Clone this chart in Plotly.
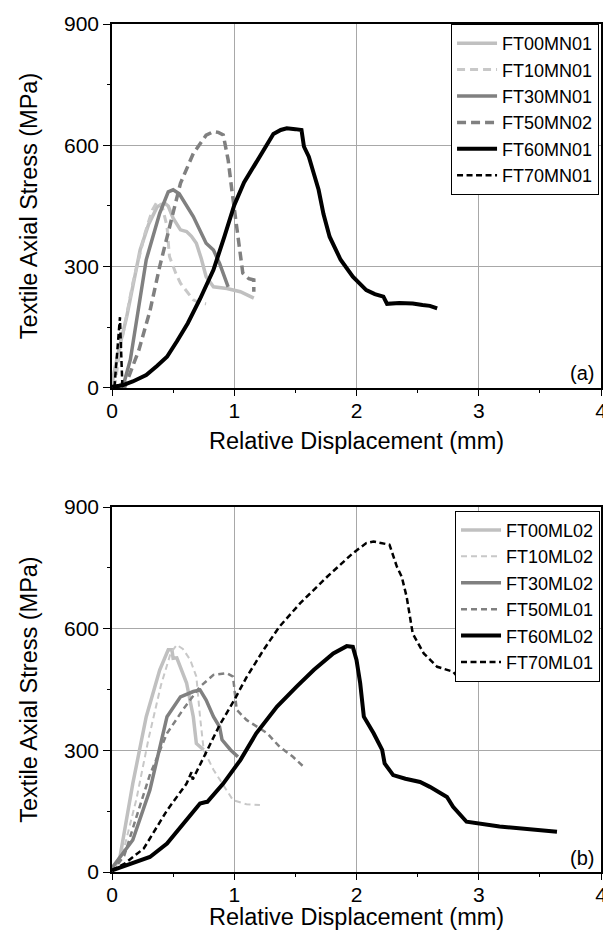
import plotly.graph_objects as go

# ---------------- data (a) ----------------
a_names = ["FT00MN01", "FT10MN01", "FT30MN01", "FT50MN02", "FT60MN01", "FT70MN01"]
a_FT00_x = [0, 0.01, 0.06, 0.12, 0.23, 0.30, 0.37, 0.43, 0.46, 0.50, 0.56, 0.61, 0.65, 0.69, 0.73, 0.77, 0.83, 0.94, 1.05, 1.16]
a_FT00_y = [0, 28, 100, 176, 341, 405, 448, 457, 450, 420, 391, 387, 375, 358, 320, 275, 250, 246, 238, 222]
a_FT10_x = [0.02, 0.065, 0.17, 0.27, 0.33, 0.37, 0.41, 0.45, 0.47, 0.52, 0.56, 0.62, 0.665, 0.72, 0.77]
a_FT10_y = [0, 94, 259, 383, 440, 461, 450, 399, 325, 285, 259, 235, 218, 210, 208]
a_FT30_x = [0.04, 0.10, 0.15, 0.20, 0.28, 0.39, 0.46, 0.50, 0.55, 0.665, 0.77, 0.83, 0.88, 0.95]
a_FT30_y = [0, 15, 70, 170, 317, 432, 485, 490, 480, 424, 358, 341, 308, 250]
a_FT50_x = [0.08, 0.106, 0.22, 0.31, 0.39, 0.47, 0.56, 0.665, 0.71, 0.77, 0.83, 0.87, 0.91, 0.95, 0.98, 1.03, 1.07, 1.12, 1.16, 1.16]
a_FT50_y = [0, 3, 94, 190, 300, 399, 506, 580, 601, 625, 634, 632, 626, 564, 490, 383, 284, 270, 267, 238]
a_FT60_x = [0, 0.08, 0.17, 0.28, 0.37, 0.45, 0.53, 0.62, 0.72, 0.83, 0.92, 1.00, 1.08, 1.16, 1.24, 1.32, 1.38, 1.43, 1.50, 1.55,
            1.57, 1.61, 1.65, 1.69, 1.73, 1.78, 1.87, 1.97, 2.08, 2.15, 2.22, 2.25, 2.35, 2.46, 2.54, 2.60, 2.66]
a_FT60_y = [3, 6, 16, 32, 55, 77, 115, 160, 220, 292, 375, 452, 508, 548, 590, 628, 638, 642, 640, 638,
            597, 572, 531, 490, 430, 374, 317, 275, 242, 232, 226, 208, 210, 209, 205, 203, 197]
a_FT70_x = [0.02, 0.035, 0.05, 0.065, 0.07, 0.075, 0.08, 0.085]
a_FT70_y = [2, 60, 120, 175, 130, 80, 30, 5]

# ---------------- data (b) ----------------
b_names = ["FT00ML02", "FT10ML02", "FT30ML02", "FT50ML01", "FT60ML02", "FT70ML01"]
b_FT00_x = [0, 0.065, 0.17, 0.28, 0.39, 0.44, 0.46, 0.49, 0.50, 0.53, 0.56, 0.61, 0.665, 0.69, 0.75]
b_FT00_y = [0, 37, 218, 383, 498, 535, 548, 548, 527, 528, 506, 466, 383, 317, 301]
b_FT10_x = [0, 0.10, 0.20, 0.30, 0.40, 0.48, 0.53, 0.58, 0.64, 0.69, 0.72, 0.75, 0.83, 0.94, 0.99, 1.10, 1.21]
b_FT10_y = [0, 60, 180, 330, 460, 540, 560, 550, 523, 482, 383, 301, 252, 202, 177, 167, 165]
b_FT30_x = [0, 0.17, 0.31, 0.45, 0.56, 0.665, 0.72, 0.77, 0.83, 0.88, 0.90, 0.97, 1.03]
b_FT30_y = [10, 79, 202, 383, 432, 445, 449, 424, 383, 358, 326, 301, 284]
b_FT50_x = [0, 0.10, 0.20, 0.31, 0.45, 0.58, 0.72, 0.83, 0.94, 0.99, 1.02, 1.10, 1.27, 1.37, 1.48, 1.58]
b_FT50_y = [0, 40, 136, 240, 342, 400, 457, 486, 490, 482, 400, 375, 342, 309, 284, 256]
b_FT60_x = [0, 0.17, 0.31, 0.45, 0.61, 0.72, 0.76, 0.78, 0.91, 1.05, 1.18, 1.35, 1.51, 1.62, 1.65, 1.81, 1.92, 1.97, 2.00,
            2.03, 2.06, 2.14, 2.21, 2.23, 2.30, 2.40, 2.52, 2.60, 2.74, 2.79, 2.90, 3.17, 3.45, 3.64]
b_FT60_y = [4, 21, 37, 70, 128, 169, 172, 173, 218, 276, 342, 408, 457, 490, 498, 539, 557, 555, 523,
            466, 383, 342, 301, 268, 239, 230, 222, 210, 185, 161, 124, 112, 103, 99]
b_FT70_x = [0, 0.10, 0.26, 0.45, 0.61, 0.65, 0.66, 0.775, 0.88, 1.00, 1.10, 1.24, 1.37, 1.54, 1.76, 1.97, 2.08, 2.14,
            2.27, 2.33, 2.37, 2.41, 2.46, 2.55, 2.66, 2.79, 2.85]
b_FT70_y = [4, 20, 58, 152, 218, 246, 228, 300, 362, 424, 480, 548, 605, 663, 728, 786, 811, 815,
            807, 753, 728, 679, 588, 539, 506, 494, 473]

x_ticks = [0, 1, 2, 3, 4]
y_ticks = [0, 300, 600, 900]
x_title = "Relative Displacement (mm)"
y_title = "Textile Axial Stress (MPa)"

FONT = "Arial, Liberation Sans, sans-serif"

styles_a = [
    dict(color="#c0c0c0", width=3.5, dash="solid"),
    dict(color="#c8c8c8", width=3, dash="8px,5px"),
    dict(color="#808080", width=3.5, dash="solid"),
    dict(color="#808080", width=3.5, dash="9px,5px"),
    dict(color="#000000", width=4, dash="solid"),
    dict(color="#000000", width=2.5, dash="6px,3.5px"),
]
styles_b = [
    dict(color="#c0c0c0", width=3.5, dash="solid"),
    dict(color="#c8c8c8", width=2, dash="6px,4px"),
    dict(color="#808080", width=3.5, dash="solid"),
    dict(color="#808080", width=2.5, dash="6px,4px"),
    dict(color="#000000", width=4, dash="solid"),
    dict(color="#000000", width=2.5, dash="6px,3.5px"),
]

fig = go.Figure()
a_data = [(a_FT00_x, a_FT00_y), (a_FT10_x, a_FT10_y), (a_FT30_x, a_FT30_y),
          (a_FT50_x, a_FT50_y), (a_FT60_x, a_FT60_y), (a_FT70_x, a_FT70_y)]
b_data = [(b_FT00_x, b_FT00_y), (b_FT10_x, b_FT10_y), (b_FT30_x, b_FT30_y),
          (b_FT50_x, b_FT50_y), (b_FT60_x, b_FT60_y), (b_FT70_x, b_FT70_y)]

for name, (xs, ys), st in zip(a_names, a_data, styles_a):
    fig.add_trace(go.Scatter(x=xs, y=ys, mode="lines", name=name, line=st,
                             xaxis="x", yaxis="y", legend="legend"))
for name, (xs, ys), st in zip(b_names, b_data, styles_b):
    fig.add_trace(go.Scatter(x=xs, y=ys, mode="lines", name=name, line=st,
                             xaxis="x2", yaxis="y2", legend="legend2"))

xa = dict(range=[0, 4], tickvals=x_ticks, ticks="outside", ticklen=6, tickwidth=1, tickcolor="black",
          showline=True, linecolor="black", linewidth=1.5, mirror=True, ticklabeloverflow="allow",
          automargin=False, ticklabelstandoff=-3,
          showgrid=True, gridcolor="#a8a8a8", gridwidth=1, zeroline=False,
          minor=dict(dtick=0.5, ticks="outside", ticklen=3, tickcolor="black", showgrid=False),
          tickfont=dict(size=21, color="black", family=FONT))
ya = dict(range=[0, 900], tickvals=y_ticks, ticks="outside", ticklen=7, tickwidth=1, tickcolor="black",
          showline=True, linecolor="black", linewidth=1.5, mirror=True, automargin=False,
          showgrid=True, gridcolor="#a8a8a8", gridwidth=1, zeroline=False,
          minor=dict(dtick=150, ticks="outside", ticklen=3, tickcolor="black", showgrid=False),
          tickfont=dict(size=21, color="black", family=FONT),
          title=dict(text=y_title, font=dict(size=23.5, color="black", family=FONT), standoff=20))

leg = dict(font=dict(size=18, color="black", family=FONT), bordercolor="black", borderwidth=1,
           bgcolor="white", xanchor="right", yanchor="top", tracegroupgap=0, itemwidth=40)

title_font = dict(size=23.5, color="black", family=FONT)

fig.update_layout(
    width=603, height=931,
    margin=dict(l=112, r=2, t=24, b=59, autoexpand=False),
    paper_bgcolor="white", plot_bgcolor="white",
    font=dict(family=FONT, color="black"),
    xaxis=dict(**xa, domain=[0, 1], anchor="y",
               title=dict(text=x_title, font=title_font, standoff=12)),
    yaxis=dict(**ya, domain=[0.5708, 1], anchor="x"),
    xaxis2=dict(**xa, domain=[0, 1], anchor="y2"),
    yaxis2=dict(**ya, domain=[0, 0.4304], anchor="x2"),
    legend=dict(**leg, x=0.996, y=1.0),
    legend2=dict(**leg, x=0.998, y=0.426),
    annotations=[
        dict(text="(a)", xref="x domain", yref="y domain", x=0.99, y=0.04, xanchor="right", yanchor="middle",
             showarrow=False, font=dict(size=20, color="black", family=FONT)),
        dict(text="(b)", xref="x2 domain", yref="y2 domain", x=0.99, y=0.037, xanchor="right", yanchor="middle",
             showarrow=False, font=dict(size=20, color="black", family=FONT)),
        dict(text=x_title, xref="paper", yref="paper", x=0.5, y=-0.0535, xanchor="center", yanchor="middle",
             showarrow=False, font=title_font),
    ],
)

fig.write_html("out.html", config={"displayModeBar": False},
               post_script="document.body.style.margin='0';document.body.style.overflow='hidden';")
